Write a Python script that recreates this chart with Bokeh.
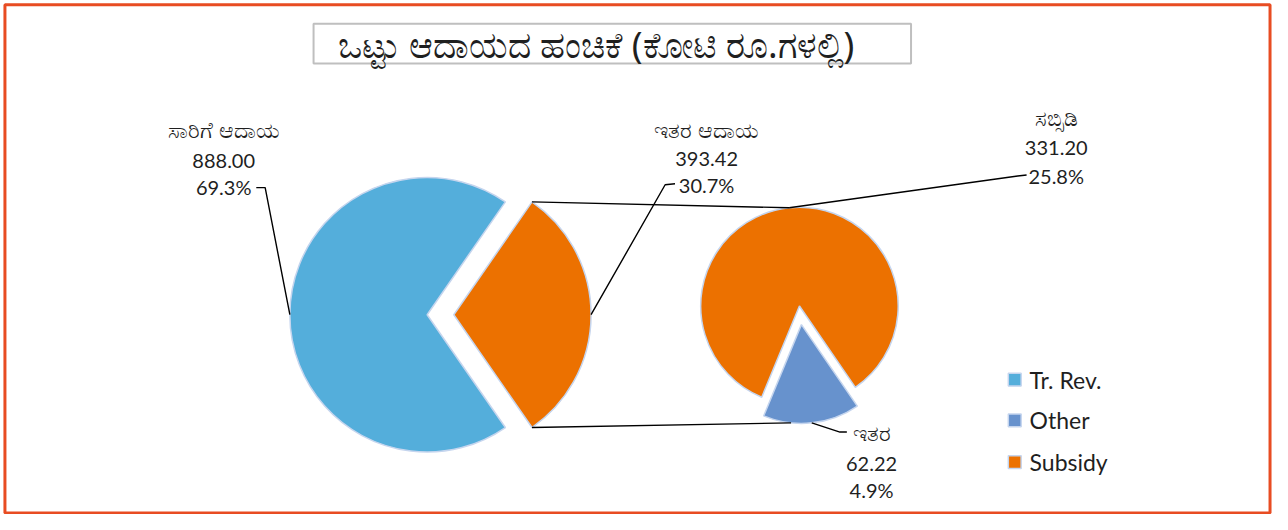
import math
from bokeh.plotting import figure
from bokeh.models import Range1d
from bokeh.core.properties import value
from bokeh.embed import file_html
from bokeh.resources import INLINE

# ---------------- data ----------------
categories = ["Tr. Rev.", "Other", "Subsidy"]
main_names = ["ಸಾರಿಗೆ ಆದಾಯ", "ಇತರ ಆದಾಯ"]
main_values = [888.00, 393.42]
sub_names = ["ಸಬ್ಸಿಡಿ", "ಇತರ"]
sub_values = [331.20, 62.22]
title_text = "ಒಟ್ಟು ಆದಾಯದ ಹಂಚಿಕೆ (ಕೋಟಿ ರೂ.ಗಳಲ್ಲಿ)"

# ---------------- styles ----------------
COL_TR = "#54aedb"
COL_OTHER = "#6792cd"
COL_SUB = "#ec7100"
legend_colors = [COL_TR, COL_OTHER, COL_SUB]
EDGE = "#c5d5ee"
TXT = "#1f1f1f"
NUM_FONT = value("Lato")
KN_FONT = value("Noto Sans")

W, H = 1272, 514
REF_W, REF_H = 1288, 530
# y data units per x data unit in screen pixels (keeps circles round)
K = (W / REF_W) / (H / REF_H)


def Y(y):
    return REF_H - y


p = figure(width=W, height=H, output_backend="svg", toolbar_location=None,
           x_range=Range1d(0, REF_W), y_range=Range1d(0, REF_H),
           x_axis_location=None, y_axis_location=None, min_border=0)
p.grid.visible = False
p.outline_line_color = None
p.background_fill_color = "white"
p.border_fill_color = "white"

# outer border
p.quad(left=[4.5], right=[1285.5], top=[Y(4.5)], bottom=[Y(528.5)], fill_color=None,
       line_color="#e84c22", line_width=3)

total = sum(main_values)

# ---------------- main pie ----------------
mcx, mcy, mr = 432, 324, 139
explode_main = 27
other_frac = main_values[1] / total
half = math.pi * other_frac
p.wedge(x=[mcx], y=[Y(mcy)], radius=mr, start_angle=[half], end_angle=[2 * math.pi - half],
        fill_color=COL_TR, line_color=EDGE, line_width=1.5)
ocx = mcx + explode_main
p.wedge(x=[ocx], y=[Y(mcy)], radius=mr, start_angle=[-half], end_angle=[half],
        fill_color=COL_SUB, line_color=EDGE, line_width=1.5)

# ---------------- second pie ----------------
scx, scy, sr = 809, 315, 100
explode_sub = 19
sub_total = sum(sub_values)
oth_span = 2 * math.pi * sub_values[1] / sub_total
oth_mid = math.radians(-84)
o_start = oth_mid - oth_span / 2
o_end = oth_mid + oth_span / 2
sub_start = o_end
sub_end = o_start + 2 * math.pi
sub_mid = (sub_start + sub_end) / 2
p.wedge(x=[scx], y=[Y(scy)], radius=sr, start_angle=[sub_start], end_angle=[sub_end],
        fill_color=COL_SUB, line_color=EDGE, line_width=1.5)
ex = scx + explode_sub * math.cos(oth_mid)
ey = Y(scy) + K * explode_sub * math.sin(oth_mid)
p.wedge(x=[ex], y=[ey], radius=sr, start_angle=[o_start], end_angle=[o_end],
        fill_color=COL_OTHER, line_color=EDGE, line_width=1.5)

# ---------------- connector lines ----------------
top_src = (ocx + mr * math.cos(half), Y(mcy) + K * mr * math.sin(half))
bot_src = (ocx + mr * math.cos(half), Y(mcy) - K * mr * math.sin(half))
top_dst = (scx + sr * math.cos(sub_mid), Y(scy) + K * sr * math.sin(sub_mid))
bot_ang = -sub_mid
bot_dst = (ex + sr * math.cos(bot_ang), ey + K * sr * math.sin(bot_ang))
p.multi_line(xs=[[top_src[0], top_dst[0]], [bot_src[0], bot_dst[0]]],
             ys=[[top_src[1], top_dst[1]], [bot_src[1], bot_dst[1]]],
             line_color="black", line_width=1.4)

# ---------------- leader lines ----------------
tr_pt = (mcx - mr, Y(mcy))
ot_pt = (ocx + mr, Y(mcy))
sb_pt = top_dst
io_pt = (ex + sr * math.cos(oth_mid), ey + K * sr * math.sin(oth_mid))
leaders_x = [
    [tr_pt[0], 268, 259],
    [ot_pt[0], 673, 683],
    [sb_pt[0], 1030, 1039],
    [io_pt[0], 850, 857],
]
leaders_y = [
    [tr_pt[1], Y(193), Y(193)],
    [ot_pt[1], Y(190), Y(189)],
    [sb_pt[1], Y(181), Y(180)],
    [io_pt[1], Y(445), Y(445)],
]
p.multi_line(xs=leaders_x, ys=leaders_y, line_color="black", line_width=1.4)

# ---------------- data labels ----------------
all_names = [main_names[0], main_names[1], sub_names[0], sub_names[1]]
all_vals = [main_values[0], main_values[1], sub_values[0], sub_values[1]]
lab_x = [226, 715, 1069, 882]
name_y = [133, 132, 120, 445]
val_y = [165, 163, 152, 478]
pct_y = [192, 190, 181, 505]
val_txt = ["%.2f" % v for v in all_vals]
pct_txt = ["%.1f%%" % (100 * v / total) for v in all_vals]

p.text(x=lab_x, y=[Y(v) for v in name_y], text=all_names, text_font=KN_FONT,
       text_font_size="22px", text_align="center", text_baseline="middle", text_color=TXT)
p.text(x=lab_x, y=[Y(v) for v in val_y], text=val_txt, text_font=NUM_FONT,
       text_font_size="20px", text_align="center", text_baseline="middle", text_color=TXT)
p.text(x=lab_x, y=[Y(v) for v in pct_y], text=pct_txt, text_font=NUM_FONT,
       text_font_size="20px", text_align="center", text_baseline="middle", text_color=TXT)

# ---------------- title ----------------
p.quad(left=[317], right=[922], top=[Y(24)], bottom=[Y(65)], fill_color=None,
       line_color="#bfbfbf", line_width=2)
p.text(x=[603], y=[Y(45)], text=[title_text], text_font=KN_FONT, text_font_size="36px",
       text_align="center", text_baseline="middle", text_color=TXT)

# ---------------- legend ----------------
leg_y = [391, 433, 476]
p.rect(x=[1027] * 3, y=[Y(v) for v in leg_y], width=13, height=13 * K,
       fill_color=legend_colors, line_color=EDGE, line_width=1.5)
p.text(x=[1042] * 3, y=[Y(v) for v in leg_y], text=categories, text_font=NUM_FONT,
       text_font_size="23px", text_align="left", text_baseline="middle", text_color=TXT)

open("out.html", "w").write(file_html(p, INLINE))
